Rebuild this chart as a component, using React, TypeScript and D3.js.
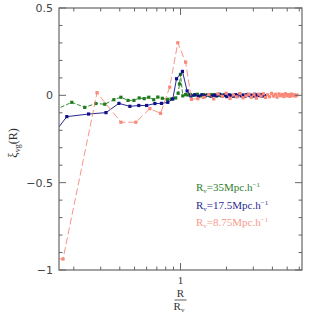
import * as d3 from 'd3';

// R / Rv values and xi_vg(R) for each void radius
const greenR = [0.151, 0.194, 0.236, 0.279, 0.319, 0.366, 0.407, 0.453, 0.495, 0.536, 0.578, 0.62, 0.668, 0.71, 0.76, 0.82, 0.87, 0.93, 0.965, 0.985, 1.0, 1.035,
  1.08, 1.12, 1.16, 1.21, 1.25, 1.29, 1.34, 1.38, 1.42, 1.47, 1.51, 1.55, 1.59, 1.64, 1.68, 1.72, 1.77, 1.81, 1.85, 1.9, 1.94, 1.98];
const greenV = [-0.083, -0.04, -0.069, -0.047, -0.051, -0.025, -0.011, -0.029, -0.029, -0.015, -0.019, -0.011, -0.025, -0.01, -0.017, -0.023, -0.021, -0.015, 0.012, 0.065, 0.12, -0.003,
  0.004, 0.002, 0.005, 0.0, 0.003, 0.006, -0.004, 0.002, 0.004, 0.0, 0.003, -0.002, 0.004, 0.001, 0.003, -0.003, 0.002, 0.0, 0.002, -0.001, 0.001, 0.0];

const blueR = [0.11, 0.18, 0.25, 0.325, 0.395, 0.466, 0.533, 0.6, 0.68, 0.751, 0.825, 0.89, 0.942, 1.03, 1.105,
  1.17, 1.24, 1.31, 1.38, 1.45, 1.52, 1.59, 1.66, 1.73, 1.8, 1.87, 1.94, 2.01, 2.08, 2.15, 2.22, 2.29, 2.36, 2.43, 2.5, 2.57, 2.64, 2.71, 2.78, 2.85, 2.92, 2.99, 3.06, 3.13, 3.2, 3.27, 3.34, 3.41, 3.48, 3.55];
const blueV = [-0.366, -0.122, -0.107, -0.099, -0.046, -0.063, -0.058, -0.058, -0.047, -0.046, -0.04, -0.021, 0.095, 0.137, 0.025,
  -0.004, 0.003, -0.006, 0.002, -0.003, 0.004, -0.005, 0.001, -0.002, 0.006, -0.004, 0.002, -0.007, 0.003, 0.0, -0.005, 0.004, -0.002, 0.006, -0.003, 0.002, -0.006, 0.003, 0.005, -0.002, 0.001, -0.004, 0.006, -0.003, 0.002, -0.001, 0.004, -0.005, 0.001, -0.002];

const pinkR = [0.055, 0.17, 0.284, 0.407, 0.51, 0.63, 0.74, 0.85, 0.96, 1.08, 1.18, 1.3,
  1.42, 1.53, 1.65, 1.76, 1.88, 1.99, 2.11, 2.22, 2.34, 2.45, 2.57, 2.68, 2.8, 2.91, 3.03, 3.14, 3.26, 3.37, 3.49, 3.6, 3.72, 3.83, 3.95, 4.06, 4.18, 4.29, 4.41, 4.52, 4.64, 4.75, 4.87, 4.98, 5.1, 5.21, 5.33, 5.44, 5.56, 5.67, 5.79];
const pinkV = [-0.925, -0.937, 0.015, -0.154, -0.154, -0.076, -0.103, 0.047, 0.301, 0.19, -0.023, -0.019,
  -0.012, 0.005, -0.02, 0.008, -0.006, 0.012, -0.018, 0.002, -0.009, 0.01, -0.014, -0.003, 0.006, -0.011, 0.004, -0.016, 0.007, -0.005, 0.009, -0.012, 0.003, -0.008, 0.011, -0.004, 0.006, -0.01, 0.008, -0.002, 0.005, -0.007, 0.009, -0.003, 0.004, -0.006, 0.007, -0.002, 0.003, -0.004, 0.002];

const legendLabels = ['35', '17.5', '8.75'];
const yTickLabels = ['0.5', '0', '\u22120.5', '\u22121'];
const yTickValues = [0.5, 0, -0.5, -1];
const xMinor = [0.2, 0.3, 0.4, 0.5, 0.6, 0.7, 0.8, 0.9, 2, 3, 4, 5, 6];

const series = [
  { name: 'green', r: greenR, v: greenV, color: '#1e7b1e', text: '#2e802e', dash: '4,2', label: legendLabels[0] },
  { name: 'blue', r: blueR, v: blueV, color: '#10108a', text: '#2a2a92', dash: '', label: legendLabels[1] },
  { name: 'pink', r: pinkR, v: pinkV, color: '#f88878', text: '#f89a8c', dash: '7,3', label: legendLabels[2] },
];

export default function App() {
  const margin = { top: 8, right: 17, bottom: 49, left: 59 };
  const W = 319, H = 319;
  const w = W - margin.left - margin.right;
  const h = H - margin.top - margin.bottom;

  const x = d3.scaleLog().domain([0.16, 6.25]).range([0, w]);
  const y = d3.scaleLinear().domain([-1, 0.5]).range([h, 0]);
  const yMinor = d3.range(-10, 6).map(d => d / 10);
  const axisColor = '#666';
  const serif = '"Liberation Serif", "DejaVu Serif", serif';

  const line = (r: number[], v: number[]) =>
    d3.line<number>().x((_, i) => x(r[i])).y((_, i) => y(v[i]))(r.map((_, i) => i)) || '';

  return (
    <svg width={W} height={H} style={{ position: 'absolute', left: 0, top: 0 }}>
      <defs>
        <clipPath id="plotclip"><rect x={0} y={0} width={w} height={h} /></clipPath>
      </defs>
      <g transform={`translate(${margin.left},${margin.top})`}>
        {/* data */}
        <g clipPath="url(#plotclip)">
          {series.map(s => (
            <g key={s.name}>
              <path d={line(s.r, s.v)} fill="none" stroke={s.color} strokeWidth={0.9} strokeDasharray={s.dash} />
              {s.r.map((r, i) => (
                <rect key={i} x={x(r) - 1.6} y={y(s.v[i]) - 1.6} width={3.2} height={3.2} fill={s.color} />
              ))}
            </g>
          ))}
        </g>

        {/* frame */}
        <rect x={0} y={0} width={w} height={h} fill="none" stroke={axisColor} strokeWidth={1.2} />

        {/* y ticks */}
        {yMinor.map(v => {
          const major = Math.abs(v * 2 - Math.round(v * 2)) < 1e-6;
          const len = major ? 7 : 3.5;
          return (
            <g key={v}>
              <line x1={0} x2={len} y1={y(v)} y2={y(v)} stroke={axisColor} />
              <line x1={w} x2={w - len} y1={y(v)} y2={y(v)} stroke={axisColor} />
            </g>
          );
        })}
        {yTickValues.map((v, i) => (
          <text key={v} x={-6} y={y(v)} dy="0.35em" textAnchor="end" fontSize={11}
            fontFamily='"DejaVu Sans", sans-serif' fill="#444">{yTickLabels[i]}</text>
        ))}

        {/* x ticks */}
        {[...xMinor, 1].map(r => {
          const len = r === 1 ? 7 : 3.5;
          return (
            <g key={r}>
              <line x1={x(r)} x2={x(r)} y1={h} y2={h - len} stroke={axisColor} />
              <line x1={x(r)} x2={x(r)} y1={0} y2={len} stroke={axisColor} />
            </g>
          );
        })}
        <text x={x(1)} y={h + 14} textAnchor="middle" fontSize={11} fontFamily={serif} fill="#333">1</text>

        {/* x label: R / Rv */}
        <g transform={`translate(${x(1)},${h + 27})`} fontFamily={serif} fontSize={11} fill="#333">
          <text x={0} y={0} textAnchor="middle">R</text>
          <line x1={-6} x2={6} y1={3} y2={3} stroke="#333" strokeWidth={0.8} />
          <text x={-1.5} y={13} textAnchor="middle">R<tspan fontSize={7} dy={2}>v</tspan></text>
        </g>

        {/* y label */}
        <text transform={`translate(${17 - margin.left},${143 - margin.top}) rotate(-90)`} textAnchor="middle"
          fontFamily={serif} fontSize={12} fill="#333">
          ξ<tspan fontSize={8} dy={3}>vg</tspan><tspan dy={-3}>(R)</tspan>
        </text>

        {/* legend */}
        {series.map((s, i) => (
          <text key={s.name} x={137} y={183 + i * 17.5} fontFamily={serif} fontSize={11} fill={s.text}>
            R<tspan fontSize={7} dy={2}>v</tspan><tspan dy={-2}>={s.label}Mpc.h</tspan><tspan fontSize={7} dy={-4}>−1</tspan>
          </text>
        ))}
      </g>
    </svg>
  );
}
